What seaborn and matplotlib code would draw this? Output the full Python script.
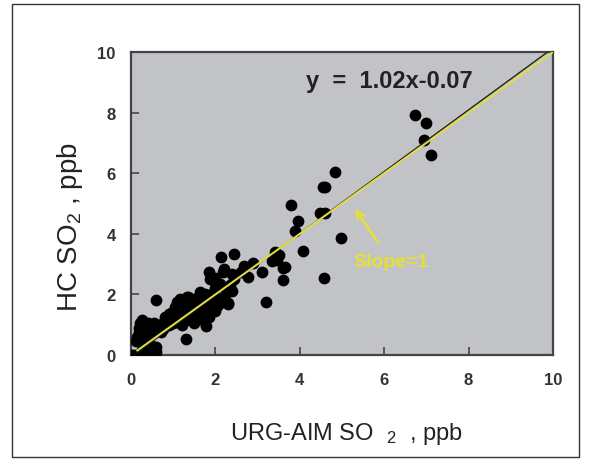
import numpy as np
import pandas as pd
import seaborn as sns
import matplotlib.pyplot as plt
from matplotlib.patches import Rectangle

# URG-AIM SO2 (x) vs HC SO2 (y), ppb
urg_so2 = [
    0.02, 0.08, 0.15, 0.22, 0.30, 0.38, 0.45, 0.52, 0.58, 0.60, 0.55, 0.48, 0.40, 0.33, 0.25, 0.42, 0.50, 0.60,
    0.12, 0.15, 0.18, 0.20, 0.22, 0.25, 0.20, 0.28, 0.30, 0.35, 0.38, 0.32, 0.27, 0.40, 0.45, 0.50, 0.55, 0.60,
    0.42, 0.50, 0.58, 0.65, 0.70, 0.75, 0.80, 0.85, 0.90, 0.95, 1.00, 1.05, 0.90, 0.80, 0.70, 0.75,
    1.10, 1.15, 1.20, 1.25, 1.30, 1.35, 1.40, 1.45, 1.50, 1.55, 1.60, 1.65, 1.70, 1.75, 1.80, 1.85, 1.90, 1.95,
    2.00, 1.20, 1.30, 1.40, 1.50, 1.60, 1.70, 1.80, 1.90, 2.00, 1.78, 2.10, 2.20, 2.30, 2.25, 2.35, 2.40, 2.45,
    2.00, 2.10, 1.15, 1.05, 1.10, 0.95, 1.25, 1.45, 1.55, 1.65, 1.85, 0.59, 1.30, 1.08, 1.32, 1.64, 2.03, 2.27,
    1.84, 1.87, 2.18, 2.39, 2.13, 2.45, 2.31, 2.00, 2.20,
    2.67, 2.89, 2.77, 3.10, 3.20, 3.42, 3.34, 3.46, 3.60, 3.66, 3.60, 3.50, 2.60,
    3.79, 3.96, 3.88, 4.07, 4.47, 4.60, 4.55, 4.60, 4.83, 4.98, 4.58,
    6.72, 7.00, 6.95, 7.10,
]
hc_so2 = [
    0.00, 0.00, 0.00, 0.00, 0.00, 0.00, 0.00, 0.00, 0.02, 0.10, 0.18, 0.10, 0.12, 0.08, 0.15, 0.25, 0.30, 0.25,
    0.45, 0.60, 0.75, 0.90, 1.05, 1.15, 0.55, 0.85, 1.00, 0.95, 0.80, 0.70, 0.50, 1.05, 0.90, 1.00, 1.05, 0.95,
    0.65, 0.75, 0.80, 0.90, 1.00, 1.05, 0.95, 1.10, 1.00, 1.20, 1.05, 1.30, 1.35, 1.25, 0.75, 0.85,
    1.10, 1.25, 1.45, 1.80, 1.60, 1.90, 1.70, 1.50, 1.30, 1.75, 1.95, 1.60, 1.40, 2.00, 1.80, 1.55, 1.70, 2.05,
    1.90, 1.00, 1.15, 1.20, 1.05, 1.25, 1.15, 1.35, 1.50, 1.45, 0.97, 1.70, 1.90, 1.70, 2.10, 2.30, 2.10, 2.50,
    2.20, 2.35, 1.85, 1.60, 1.45, 1.40, 1.35, 1.85, 1.45, 1.80, 1.25, 1.82, 0.54, 1.74, 1.91, 2.07, 1.63, 2.07,
    2.74, 2.50, 2.75, 2.68, 3.22, 3.34, 1.67, 2.55, 2.85,
    2.93, 3.05, 2.58, 2.75, 1.74, 3.40, 3.10, 3.15, 2.87, 2.90, 2.49, 3.30, 2.75,
    4.94, 4.41, 4.08, 3.42, 4.67, 4.67, 5.53, 5.55, 6.05, 3.86, 2.55,
    7.92, 7.65, 7.10, 6.60,
]

# regression fit and 1:1 line
fit_slope, fit_intercept = 1.02, -0.07
line_x = [0.15, 10.0]

df = pd.DataFrame({'urg': urg_so2, 'hc': hc_so2})

plt.rcParams['font.family'] = ['Liberation Sans', 'DejaVu Sans']
plt.rcParams['mathtext.fontset'] = 'custom'
plt.rcParams['mathtext.rm'] = 'Liberation Sans'
plt.rcParams['mathtext.it'] = 'Liberation Sans'

fig = plt.figure(figsize=(5.9, 4.6), dpi=100)
ax = fig.add_axes([131 / 590, 1 - 356 / 460, 422 / 590, 303 / 460])
ax.set_facecolor('#c2c3c7')

sns.scatterplot(data=df, x='urg', y='hc', color='black', s=72, linewidth=0, ax=ax, zorder=3)

lx = np.array(line_x)
ax.plot(lx, fit_slope * lx + fit_intercept, color='#222222', lw=1.0, zorder=4)
ax.plot(lx, lx, color='#e2df3e', lw=1.4, zorder=5)

ax.set_xlim(0, 10)
ax.set_ylim(0, 10)
ax.set_xticks([0, 2, 4, 6, 8, 10])
ax.set_yticks([0, 2, 4, 6, 8, 10])
ax.tick_params(direction='in', length=6, width=1.2, color='#444444', labelsize=12,
               labelcolor='#333333')
ax.tick_params(axis='y', pad=11)
ax.tick_params(axis='x', pad=12)
for lab in ax.get_xticklabels() + ax.get_yticklabels():
    lab.set_fontweight('bold')
for sp in ax.spines.values():
    sp.set_color('#444444')
    sp.set_linewidth(1.6)

ax.set_xlabel(r'URG-AIM SO  $_2$  , ppb', fontsize=17, color='#222222')
ax.set_ylabel(r'HC SO$_2$ , ppb', fontsize=20, color='#222222')
ax.xaxis.set_label_coords(0.51, -0.215)
ax.yaxis.set_label_coords(-0.11, 0.425)

ax.text(6.13, 9.05, 'y  =  1.02x-0.07', fontsize=17, fontweight='bold', color='#222222',
        ha='center', va='center', zorder=6)
ax.annotate('Slope=1', xy=(5.31, 4.82), xytext=(6.17, 3.08), fontsize=14, fontweight='heavy',
            color='#e6e033', ha='center', va='center', zorder=6,
            arrowprops=dict(arrowstyle='->', color='#e6e033', lw=1.8, shrinkA=7, shrinkB=0))

fig.patches.append(Rectangle((12 / 590, 2 / 460), 567 / 590, 453 / 460, transform=fig.transFigure,
                             fill=False, edgecolor='#333333', lw=1.0))

fig.savefig('out.png', dpi=100)
